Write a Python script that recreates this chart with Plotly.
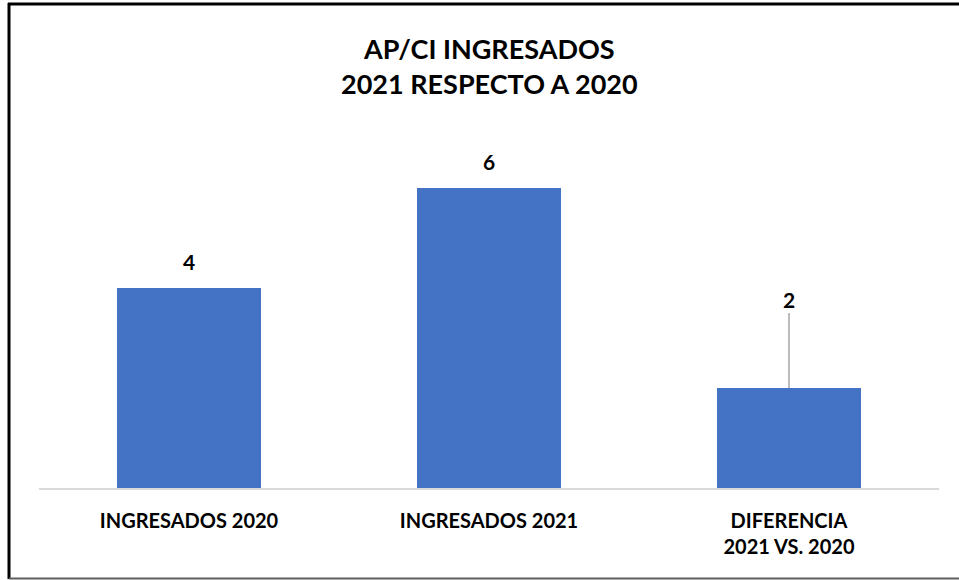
import plotly.graph_objects as go

categories = ["INGRESADOS 2020", "INGRESADOS 2021", "DIFERENCIA<br>2021 VS. 2020"]
values = [4, 6, 2]
labels = ["4", "6", "2"]
title_lines = ["AP/CI INGRESADOS", "2021 RESPECTO A 2020"]

BLUE = "#4472C4"
FONT = "Lato"

W, H = 959, 580
ml, mr, mt, mb = 39, 20, 138, 92
pw, ph = W - ml - mr, H - mt - mb

def px_x(p): return (p - ml) / pw
def px_y(p): return (H - mb - p) / ph

fig = go.Figure()
fig.add_trace(go.Bar(
    x=categories, y=values, marker=dict(color=BLUE, line=dict(width=0)),
    width=0.48, hoverinfo="skip",
))

ann = []
for i, (c, v, t) in enumerate(zip(categories, values, labels)):
    if i < 2:
        ann.append(dict(x=c, y=v, xref="x", yref="y", text=f"<b>{t}</b>", showarrow=False,
                        yshift=27, font=dict(size=21, color="#000", family=FONT)))
    else:
        ann.append(dict(x=c, y=v, xref="x", yref="y", text=f"<b>{t}</b>", showarrow=True,
                        arrowhead=0, arrowwidth=1.5, arrowcolor="#a6a6a6", ax=0, ay=-89,
                        standoff=0, startstandoff=0,
                        font=dict(size=21, color="#000", family=FONT)))

ann.append(dict(x=px_x(489), y=px_y(66), xref="paper", yref="paper",
                text="<b>" + "<br>".join(title_lines) + "</b>", showarrow=False,
                xanchor="center", yanchor="middle",
                font=dict(size=27, color="#000", family=FONT), align="center"))

# frame lines (top, left: black; bottom: grey)
fig.add_shape(type="line", xref="paper", yref="paper",
              x0=px_x(8), x1=px_x(959), y0=px_y(4), y1=px_y(4),
              line=dict(color="#000", width=3), layer="above")
fig.add_shape(type="line", xref="paper", yref="paper",
              x0=px_x(9), x1=px_x(9), y0=px_y(3), y1=px_y(579),
              line=dict(color="#000", width=3), layer="above")
fig.add_shape(type="line", xref="paper", yref="paper",
              x0=px_x(9), x1=px_x(959), y0=px_y(578.5), y1=px_y(578.5),
              line=dict(color="#5f5f5f", width=2), layer="above")

fig.update_layout(
    width=W, height=H, margin=dict(l=ml, r=mr, t=mt, b=mb),
    paper_bgcolor="#fff", plot_bgcolor="#fff", showlegend=False,
    annotations=ann,
    font=dict(family=FONT, color="#000"),
)
fig.update_xaxes(showline=True, linecolor="#d9d9d9", linewidth=2, showgrid=False,
                 ticks="", ticklabelstandoff=14, zeroline=False,
                 tickfont=dict(size=20, color="#000", family=FONT),
                 tickvals=categories, ticktext=["<b>" + c.replace("<br>", "</b><br><b>") + "</b>" for c in categories])
fig.update_yaxes(range=[0, 7], visible=False, showgrid=False, zeroline=False)

fig.write_html("out.html", config={"displayModeBar": False},
               post_script="document.body.style.margin='0';document.body.style.overflow='hidden';")
